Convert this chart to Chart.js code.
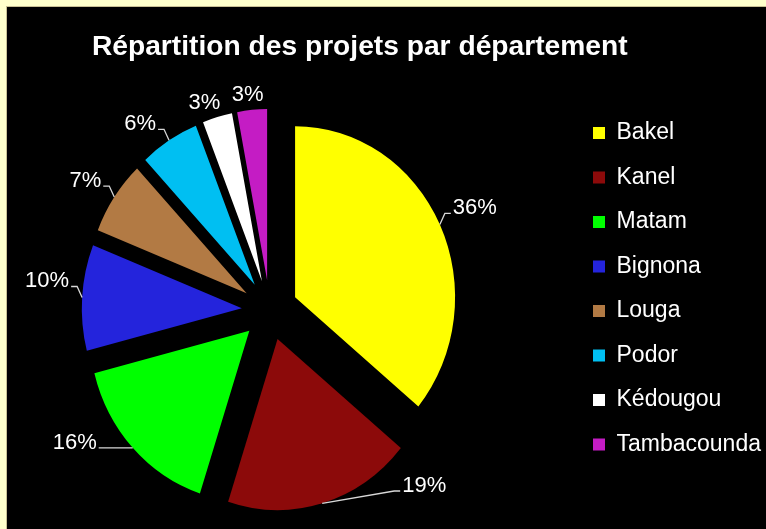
<!DOCTYPE html>
<html>
<head>
<meta charset="utf-8">
<script src="https://cdn.jsdelivr.net/npm/chart.js@4/dist/chart.umd.min.js"></script>
<style>
  body { margin: 0; background: #ffffcc; overflow: hidden; }
  /* canvas starts a little left of the page so the title can sit centred over pie + legend */
  #wrap { position: relative; width: 798px; height: 529px; margin-left: -32px; }
</style>
</head>
<body>
<div id="wrap"><canvas id="repartition"></canvas></div>
<script>
const departements = ['Bakel', 'Kanel', 'Matam', 'Bignona', 'Louga', 'Podor', 'Kédougou', 'Tambacounda'];
const parts = [36, 19, 16, 10, 7, 6, 3, 3];
const couleurs = ['#ffff00', '#8c0a0a', '#00ff00', '#2424dc', '#b27a44', '#00bff2', '#ffffff', '#c41cc4'];

const DECALAGE = 32; // canvas x of the page's left edge

// frame: light yellow border + black panel
const cadre = {
  id: 'cadre',
  beforeDraw(chart) {
    const ctx = chart.ctx;
    ctx.save();
    ctx.fillStyle = '#ffffcc';
    ctx.fillRect(0, 0, chart.width, chart.height);
    ctx.fillStyle = '#c8bf94';
    ctx.fillRect(DECALAGE + 6, 6, chart.width, chart.height);
    ctx.fillStyle = '#000000';
    ctx.fillRect(DECALAGE + 7, 7, chart.width, chart.height);
    ctx.restore();
  }
};

// let the legend text run to the canvas edge instead of being clipped
const legendeLarge = {
  id: 'legendeLarge',
  afterLayout(chart) {
    if (chart.legend) chart.legend.right = chart.width;
  }
};

// exploded slices, slightly taller than wide like the original
const eclate = {
  id: 'eclate',
  beforeDatasetDraw(chart, args, opts) {
    const ctx = chart.ctx;
    const a = chart.chartArea;
    const cx = (a.left + a.right) / 2, cy = (a.top + a.bottom) / 2;
    args.meta.data.forEach(arc => {
      const mid = (arc.startAngle + arc.endAngle) / 2;
      ctx.save();
      ctx.translate(cx, cy);
      ctx.scale(1, opts.squash);
      ctx.translate(-cx, -cy);
      ctx.translate(Math.cos(mid) * opts.distance, Math.sin(mid) * opts.distance);
      arc.draw(ctx);
      ctx.restore();
    });
    return false;
  }
};

// percentage labels with leader lines
const etiquettes = {
  id: 'etiquettes',
  afterDatasetsDraw(chart, args, opts) {
    const ctx = chart.ctx;
    const meta = chart.getDatasetMeta(0);
    const ex = chart.options.plugins.eclate;
    const total = parts.reduce((s, v) => s + v, 0);
    ctx.save();
    ctx.font = opts.font;
    ctx.fillStyle = opts.color;
    ctx.strokeStyle = opts.lineColor;
    ctx.lineWidth = 1.3;
    meta.data.forEach((arc, i) => {
      const mid = (arc.startAngle + arc.endAngle) / 2;
      const ux = Math.cos(mid), uy = Math.sin(mid);
      const at = k => ({ x: arc.x + ux * (ex.distance + k), y: arc.y + uy * (ex.distance + k) * ex.squash });
      const r = arc.outerRadius;
      const txt = parts[i] + '%';
      if (parts[i] / total < 0.05) {
        // small slices: label only, no leader
        const p = at(r + 14);
        ctx.textAlign = 'center';
        ctx.textBaseline = 'middle';
        ctx.fillText(txt, p.x + ux * ctx.measureText(txt).width, p.y);
        return;
      }
      const side = ux >= 0 ? 1 : -1;
      const p0 = at(r);
      const floor = chart.height - 38;
      let p1;
      if (uy > 0.5) {
        p1 = p0.y + 12 > floor ? { x: p0.x + side * 72, y: floor } : { x: p0.x + side * 28, y: p0.y };
      } else {
        p1 = { x: p0.x + side * 5, y: p0.y - 11 };
      }
      const p2 = { x: p1.x + side * 6, y: p1.y };
      ctx.beginPath();
      ctx.moveTo(p0.x, p0.y);
      ctx.lineTo(p1.x, p1.y);
      ctx.lineTo(p2.x, p2.y);
      ctx.stroke();
      ctx.textAlign = side > 0 ? 'left' : 'right';
      ctx.textBaseline = 'alphabetic';
      ctx.fillText(txt, p2.x + side * 2, p2.y + 1);
    });
    ctx.restore();
  }
};

const ctxRep = document.getElementById('repartition').getContext('2d');

const repartition = new Chart(ctxRep, {
  type: 'pie',
  data: {
    labels: departements,
    datasets: [{
      data: parts,
      backgroundColor: couleurs,
      borderWidth: 0,
      radius: 160
    }]
  },
  options: {
    responsive: true,
    maintainAspectRatio: false,
    animation: false,
    layout: {
      padding: { left: 0, right: 14.5, top: 0, bottom: 0 }
    },
    plugins: {
      title: {
        display: true,
        text: 'Répartition des projets par département',
        color: '#ffffff',
        font: { family: '"Liberation Sans", Arial, sans-serif', size: 28.2, weight: 'bold' },
        padding: { top: 30.2, bottom: 27.2 }
      },
      legend: {
        position: 'right',
        maxWidth: 180,
        title: { display: true, text: '', padding: 17, font: { size: 12 } },
        labels: {
          color: '#ffffff',
          boxWidth: 12,
          boxHeight: 12,
          padding: 21.5,
          font: { family: '"Liberation Sans", Arial, sans-serif', size: 23 }
        }
      },
      tooltip: { enabled: false },
      eclate: { distance: 28, squash: 1.07 },
      etiquettes: {
        font: '22px "Liberation Sans", Arial, sans-serif',
        color: '#ffffff',
        lineColor: '#d8d8d8'
      }
    }
  },
  plugins: [cadre, legendeLarge, eclate, etiquettes]
});
</script>
</body>
</html>
